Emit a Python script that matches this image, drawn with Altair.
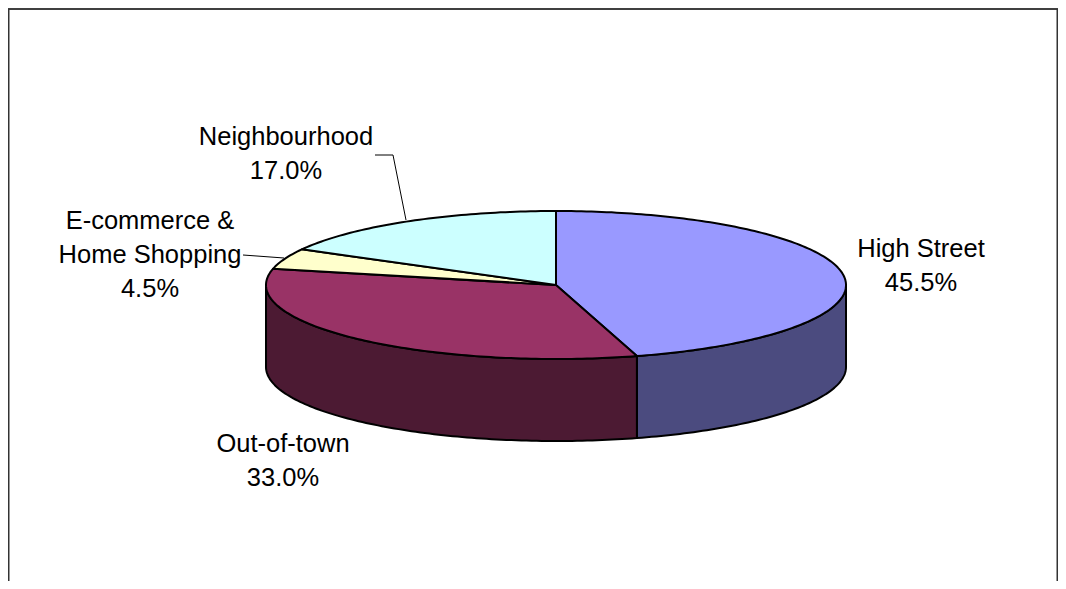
import math
import altair as alt
import pandas as pd

# ---- data ----
categories = ["High Street", "Out-of-town", "E-commerce & Home Shopping", "Neighbourhood"]
shares = [45.5, 33.0, 4.5, 17.0]
label_names = [["High Street"], ["Out-of-town"], ["E-commerce &", "Home Shopping"], ["Neighbourhood"]]
top_colors = ["#9999FF", "#993366", "#FFFFCC", "#CCFFFF"]
side_colors = ["#4B4B7F", "#4C1A33", "#7F7F66", "#667F7F"]

# ---- layout (page pixels) ----
CX, CY, RX, RY, DEPTH = 556, 285, 290, 74, 82
label_anchor = [(921, 257), (283, 451.5), (150, 229), (286, 145)]
LINE_GAP = 34
leaders = [
    [(375, 155), (393, 155), (406, 220)],  # Neighbourhood
    [(243, 255), (284, 258)],  # E-commerce
]
W, H = 1050, 573  # plot area; page margin 8px on each side


def pt(deg, dy=0.0):
    r = math.radians(deg)
    return CX + RX * math.sin(r), CY - RY * math.cos(r) + dy


def arc(a0, a1, dy=0.0):
    n = max(2, int(abs(a1 - a0)) + 1)
    return [pt(a0 + (a1 - a0) * k / (n - 1), dy) for k in range(n)]


total = sum(shares)
tops, sides = [], []
start = 0.0
for i, (cat, v) in enumerate(zip(categories, shares)):
    a0 = start
    a1 = start + v / total * 360.0
    start = a1
    poly = [(CX, CY)] + arc(a0, a1) + [(CX, CY)]
    for k, (x, y) in enumerate(poly):
        tops.append({"poly": f"t{i}", "i": k, "x": x, "y": y, "fill": top_colors[i]})
    s, e = max(a0, 90.0), min(a1, 270.0)
    if s < e:
        spoly = arc(s, e) + arc(e, s, DEPTH)
        spoly.append(spoly[0])
        for k, (x, y) in enumerate(spoly):
            sides.append({"poly": f"s{i}", "i": k, "x": x, "y": y, "fill": side_colors[i]})

text_rows = []
for i, v in enumerate(shares):
    lines = label_names[i] + [f"{v:.1f}%"]
    ax, ay = label_anchor[i]
    for j, t in enumerate(lines):
        text_rows.append({"x": ax, "y": ay + j * LINE_GAP, "t": t})

lead_rows = []
for li, pts in enumerate(leaders):
    for k, (x, y) in enumerate(pts):
        lead_rows.append({"l": li, "i": k, "x": x, "y": y})

XMAX, YMAX = 8 + W, 8 + H
frame = pd.DataFrame([
    {"x": 8, "x2": XMAX, "y": 9, "y2": 9, "c": "#000000"},
    {"x": 8.75, "x2": 8.75, "y": 9, "y2": YMAX, "c": "#333333"},
    {"x": XMAX - 0.75, "x2": XMAX - 0.75, "y": 9, "y2": YMAX, "c": "#333333"},
])

xs = alt.Scale(domain=[8, XMAX], nice=False, zero=False)
ys = alt.Scale(domain=[8, YMAX], nice=False, zero=False, reverse=True)
X = alt.X("x:Q", scale=xs, axis=None)
Y = alt.Y("y:Q", scale=ys, axis=None)

side_layer = alt.Chart(pd.DataFrame(sides)).mark_line(
    stroke="black", strokeWidth=2, strokeJoin="round"
).encode(x=X, y=Y, order=alt.Order("i:Q"), detail="poly:N", fill=alt.Fill("fill:N", scale=None))

top_layer = alt.Chart(pd.DataFrame(tops)).mark_line(
    stroke="black", strokeWidth=2, strokeJoin="round"
).encode(x=X, y=Y, order=alt.Order("i:Q"), detail="poly:N", fill=alt.Fill("fill:N", scale=None))

lead_layer = alt.Chart(pd.DataFrame(lead_rows)).mark_line(
    stroke="black", strokeWidth=1
).encode(x=X, y=Y, order=alt.Order("i:Q"), detail="l:N")

text_layer = alt.Chart(pd.DataFrame(text_rows)).mark_text(
    font="Liberation Sans", fontSize=25.5, align="center", baseline="alphabetic", color="black"
).encode(x=X, y=Y, text="t:N")

frame_layer = alt.Chart(frame).mark_rule(strokeWidth=1.5).encode(
    x=X, y=Y, x2="x2:Q", y2="y2:Q", color=alt.Color("c:N", scale=None)
)

chart = alt.layer(frame_layer, side_layer, top_layer, lead_layer, text_layer).properties(
    width=W, height=H, autosize=alt.AutoSizeParams(type="none"), padding=0
).configure_view(stroke=None)

chart.save("out.html", embed_options={"renderer": "svg", "actions": False})
